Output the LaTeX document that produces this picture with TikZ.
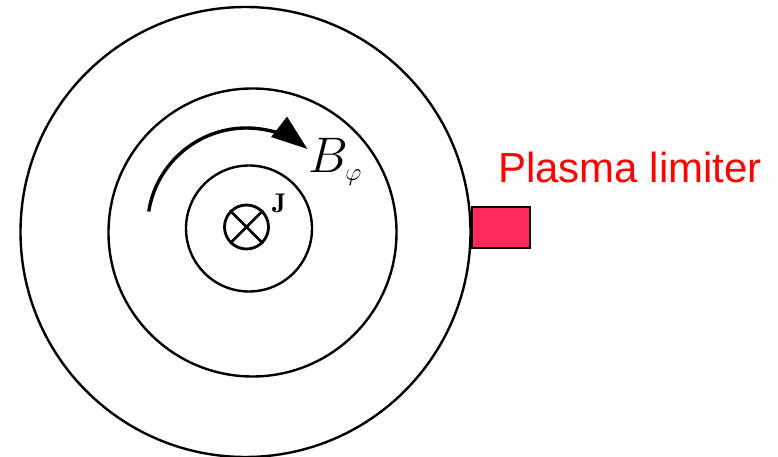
\RequirePackage{fix-cm}
\documentclass[tikz,border=0pt]{standalone}
\usepackage{fontspec}
\newfontfamily\limfont{Liberation Sans}
\usetikzlibrary{arrows.meta,positioning}
\definecolor{limred}{RGB}{255,40,95}

\begin{document}
\begin{tikzpicture}[
    x=1pt, y=1pt,
    >={Triangle[length=36pt,width=25pt]},
    ring/.style={draw, line width=2.4pt},
    lim/.style={rectangle, draw, line width=1.6pt, fill=limred,
                minimum width=58pt, minimum height=41pt, inner sep=0pt},
    lbl/.style={font=\limfont\fontsize{42}{48}\selectfont, text=red},
  ]
  \useasboundingbox (0,0) rectangle (778,457);

  %% ===== 磁気面（同心円） =====
  \coordinate (couter) at (245.5,225);
  \coordinate (cmid)   at (252.5,224.5);
  \coordinate (cinner) at (249,228.5);

  \draw[ring] (couter) circle[radius=225];
  \draw[ring] (cmid)   circle[radius=144];
  \draw[ring] (cinner) circle[radius=63];

  %% 電流 J（紙面に入る向き）
  \node[circle, draw, line width=2.8pt, minimum size=44pt, inner sep=0pt]
    (jin) at (246.5,230) {};
  \draw[line width=2.8pt] (jin.45)  -- (jin.225);
  \draw[line width=2.8pt] (jin.135) -- (jin.315);
  \node[inner sep=0pt] (jlab) at (279,254)
    {\fontsize{27}{30}\selectfont$\mathbf{J}$};

  %% ポロイダル磁場 B_phi
  \draw[->, line width=3.4pt] ([shift={(171:99)}]jin.center)
    arc[start angle=171, end angle=52, radius=99];
  \node[anchor=base west, inner sep=0pt, font=\fontsize{50}{54}\selectfont]
    (bphi) at (308,284) {$B_{\scriptscriptstyle\varphi}$};

  %% ===== リミタ =====
  \node[lim] (limiter) at (501,229.5) {};
  \node[lbl, anchor=base west, inner sep=0pt] (limlab) at (498,274)
    {Plasma limiter};

\end{tikzpicture}
\end{document}
